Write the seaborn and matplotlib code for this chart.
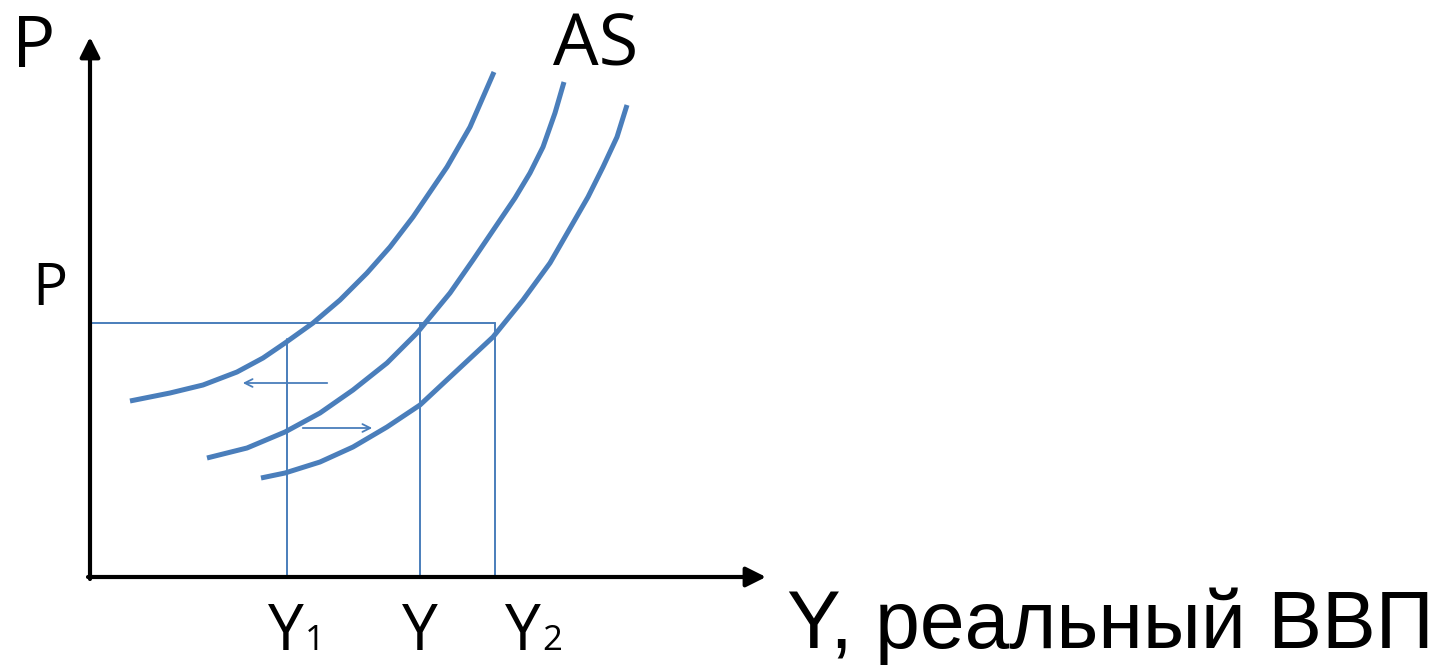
import numpy as np
import matplotlib
matplotlib.use("Agg")
import matplotlib.pyplot as plt
import seaborn as sns

sns.set_style("white")
plt.rcParams['font.family'] = ['Open Sans', 'DejaVu Sans']
plt.rcParams['text.color'] = 'black'

# Data (x = output, y = price level)
as1_x = [40, 80, 113, 147, 173, 195, 223, 250, 277, 300, 323, 357, 380, 404]
as1_y = [176, 184, 192, 205, 219, 234, 254, 277, 304, 330, 360, 410, 450, 505]
as2_x = [117, 157, 195, 230, 263, 297, 327, 360, 383, 425, 440, 453, 465, 474]
as2_y = [119, 129, 145, 164, 187, 214, 244, 284, 317, 379, 404, 430, 464, 495]
as3_x = [171, 195, 230, 263, 297, 330, 403, 433, 460, 498, 513, 527, 537]
as3_y = [99, 104, 115, 130, 150, 172, 240, 277, 314, 380, 410, 440, 472]

p_level = 254
y_pos = [197, 330, 405]
y_label_x = [178, 312, 415]
y_names = ['Y', 'Y', 'Y']
y_subs = ['1', '', '2']
y1_top = 238  # where Y1 meets the left curve

blue = '#4a7ebb'

fig = plt.figure(figsize=(14.5, 6.65), dpi=100)
ax = fig.add_axes([0, 0, 1, 1])
ax.set_xlim(-90, 1360)
ax.set_ylim(-88, 577)
ax.axis('off')

# AS curves
for xs, ys in [(as1_x, as1_y), (as2_x, as2_y), (as3_x, as3_y)]:
    sns.lineplot(x=xs, y=ys, sort=False, estimator=None, color=blue,
                 linewidth=3.6, solid_joinstyle='round', solid_capstyle='butt', ax=ax)

# guide lines
ax.plot([0, y_pos[2]], [p_level, p_level], color=blue, lw=1.4)
ax.plot([y_pos[0], y_pos[0]], [0, y1_top], color=blue, lw=1.4)
ax.plot([y_pos[1], y_pos[1]], [0, p_level], color=blue, lw=1.4)
ax.plot([y_pos[2], y_pos[2]], [0, p_level], color=blue, lw=1.4)

# shift arrows
ax.annotate('', xy=(150, 194), xytext=(240, 194),
            arrowprops=dict(arrowstyle='->', color=blue, lw=1.3, mutation_scale=14))
ax.annotate('', xy=(285, 149), xytext=(210, 149),
            arrowprops=dict(arrowstyle='->', color=blue, lw=1.3, mutation_scale=14))

# axes with arrows
ax.annotate('', xy=(0, 540), xytext=(0, -2),
            arrowprops=dict(arrowstyle='-|>', color='black', lw=3, mutation_scale=30,
                            shrinkA=0, shrinkB=0))
ax.annotate('', xy=(676, 0), xytext=(-2, 0),
            arrowprops=dict(arrowstyle='-|>', color='black', lw=3, mutation_scale=30,
                            shrinkA=0, shrinkB=0))

# labels
ax.text(-78, 510, 'P', fontsize=52, ha='left', va='baseline')
ax.text(463, 512, 'AS', fontsize=52, ha='left', va='baseline')
ax.text(-58, 272, 'P', fontsize=42, ha='left', va='baseline')
for x, n, s in zip(y_label_x, y_names, y_subs):
    ax.text(x, -73, n, fontsize=46, ha='left', va='baseline')
    if s:
        ax.text(x + 37, -73, s, fontsize=25, ha='left', va='baseline')
ax.text(697, -71, 'Y, реальный ВВП', fontsize=58, ha='left', va='baseline',
        family=['Liberation Sans', 'DejaVu Sans'])

fig.savefig('out.png', dpi=100)
